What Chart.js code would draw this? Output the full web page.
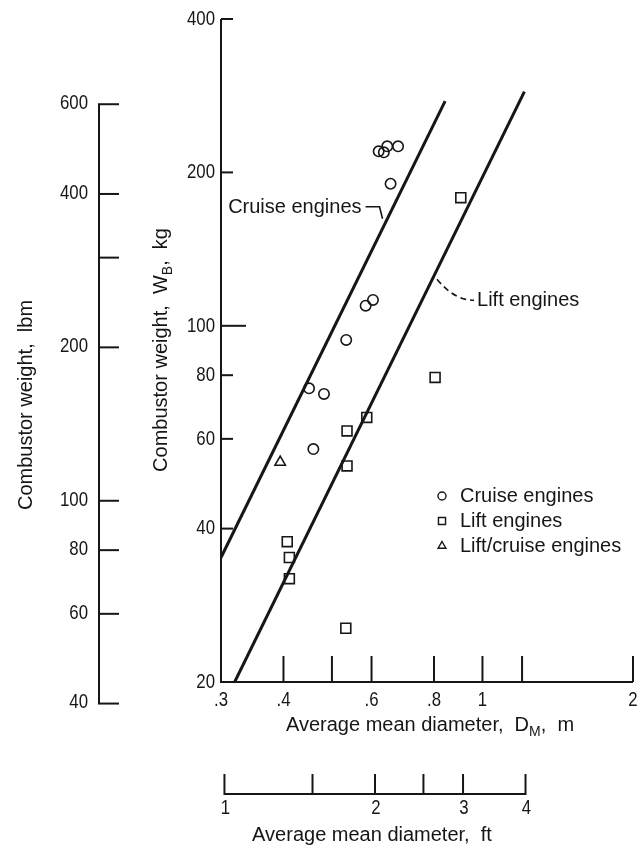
<!DOCTYPE html>
<html>
<head>
<meta charset="utf-8">
<script src="https://cdn.jsdelivr.net/npm/chart.js@4.4.0/dist/chart.umd.min.js"></script>
<style>
  html, body { margin: 0; padding: 0; background: #fff; }
  #grafica { width: 643px; height: 847px; }
</style>
</head>
<body>
<div id="grafica"><canvas id="myChart" width="643" height="847"></canvas></div>
<script>
// Combustor weight vs average mean diameter (log-log)
const cruiseDiam = [0.620, 0.635, 0.645, 0.678, 0.655, 0.584, 0.604, 0.534, 0.450, 0.482, 0.459]
const cruiseWeight = [220, 219, 225, 225, 190, 109.5, 112.4, 93.8, 75.4, 73.5, 57.3]

const liftDiam = [0.536, 0.587, 0.536, 0.804, 0.905, 0.407, 0.411, 0.411, 0.533]
const liftWeight = [62.2, 66.1, 53.1, 79.2, 178.4, 37.7, 35.1, 31.9, 25.5]

const liftCruiseDiam = [0.394]
const liftCruiseWeight = [54.0]

// correlation lines, W ~ D^2
const cruiseFitDiam = [0.3, 0.842]
const cruiseFitWeight = [35.1, 276]
const liftFitDiam = [0.3195, 1.213]
const liftFitWeight = [20, 288]

// axes
const kgTicks = [20, 40, 60, 80, 100, 200, 400]
const mTicks = [0.3, 0.4, 0.5, 0.6, 0.8, 1, 1.2, 2]
const mLabels = [".3", ".4", "", ".6", ".8", "1", "", "2"]
const lbmTicks = [40, 60, 80, 100, 200, 300, 400, 600]
const lbmLabels = ["40", "60", "80", "100", "200", "", "400", "600"]
const ftTicks = [1, 1.5, 2, 2.5, 3, 4]
const ftLabels = ["1", "", "2", "", "3", "4"]

const KG_PER_LBM = 0.45359
const M_PER_FT = 0.3048
const INK = "#161616"
const FAMILY = '"Liberation Sans", Arimo, Arial, sans-serif'
const font = (size) => size + "px " + FAMILY

const toXY = (xs, ys) => xs.map((x, i) => ({ x: x, y: ys[i] }))

function segment(ctx, x1, y1, x2, y2) {
    ctx.beginPath()
    ctx.moveTo(x1, y1)
    ctx.lineTo(x2, y2)
    ctx.stroke()
}

// tick numbers are set in a narrow face: squeeze them sideways
function numText(ctx, str, x, y, align) {
    ctx.save()
    ctx.translate(x, y)
    ctx.scale(0.8, 1)
    ctx.font = font(21)
    ctx.textAlign = align
    ctx.textBaseline = "middle"
    ctx.fillText(str, 0, 0)
    ctx.restore()
}

// text made of pieces, some of them subscripts
function partsWidth(ctx, parts) {
    let w = 0
    for (const p of parts) {
        ctx.font = font(p.size)
        w += ctx.measureText(p.t).width
    }
    return w
}
function drawParts(ctx, parts, x, y) {
    let cx = x - partsWidth(ctx, parts) / 2
    ctx.textAlign = "left"
    ctx.textBaseline = "alphabetic"
    for (const p of parts) {
        ctx.font = font(p.size)
        ctx.fillText(p.t, cx, y + (p.dy || 0))
        cx += ctx.measureText(p.t).width
    }
}

const ejes = {
    id: "ejes",
    beforeDraw(chart) {
        const ctx = chart.ctx
        ctx.save()
        ctx.fillStyle = "#fff"
        ctx.fillRect(0, 0, chart.width, chart.height)
        ctx.restore()
    },
    afterDraw(chart) {
        const ctx = chart.ctx
        const sx = chart.scales.x
        const sy = chart.scales.y
        const area = chart.chartArea
        ctx.save()
        ctx.strokeStyle = INK
        ctx.fillStyle = INK
        ctx.lineWidth = 2

        // kg axis + m axis
        ctx.beginPath()
        ctx.moveTo(area.left, area.top)
        ctx.lineTo(area.left, area.bottom)
        ctx.lineTo(area.right, area.bottom)
        ctx.stroke()

        for (const v of kgTicks) {
            const py = sy.getPixelForValue(v)
            if (v !== 20) segment(ctx, area.left, py, area.left + (v === 100 ? 25 : 12), py)
            numText(ctx, String(v), area.left - 6, py, "right")
        }

        mTicks.forEach((v, i) => {
            const px = sx.getPixelForValue(v)
            if (v !== 0.3) segment(ctx, px, area.bottom, px, area.bottom - 26)
            if (mLabels[i]) numText(ctx, mLabels[i], px, area.bottom + 18, "center")
        })

        // lbm axis on the far left
        const lx = 99
        const top = sy.getPixelForValue(600 * KG_PER_LBM)
        const bot = sy.getPixelForValue(40 * KG_PER_LBM)
        segment(ctx, lx, top, lx, bot)
        lbmTicks.forEach((v, i) => {
            const py = sy.getPixelForValue(v * KG_PER_LBM)
            segment(ctx, lx - 1, py, lx + 20, py)
            if (lbmLabels[i]) numText(ctx, lbmLabels[i], lx - 11, py - 1, "right")
        })

        // ft axis underneath
        const fy = 794
        const fl = sx.getPixelForValue(1 * M_PER_FT)
        const fr = sx.getPixelForValue(4 * M_PER_FT)
        segment(ctx, fl, fy, fr, fy)
        ftTicks.forEach((v, i) => {
            const px = sx.getPixelForValue(v * M_PER_FT)
            segment(ctx, px, fy + 1, px, fy - 20)
            if (ftLabels[i]) numText(ctx, ftLabels[i], px + 1, fy + 14, "center")
        })

        // axis titles
        drawParts(ctx, [
            { t: "Average mean diameter,  D", size: 20 },
            { t: "M", size: 14, dy: 5 },
            { t: ",  m", size: 20 }
        ], 430, 731)
        drawParts(ctx, [{ t: "Average mean diameter,  ft", size: 20 }], 372, 841)

        ctx.save()
        ctx.translate(167, 350)
        ctx.rotate(-Math.PI / 2)
        drawParts(ctx, [
            { t: "Combustor weight,  W", size: 20 },
            { t: "B", size: 14, dy: 5 },
            { t: ",  kg", size: 20 }
        ], 0, 0)
        ctx.restore()

        ctx.save()
        ctx.translate(32, 405)
        ctx.rotate(-Math.PI / 2)
        drawParts(ctx, [{ t: "Combustor weight,  lbm", size: 20 }], 0, 0)
        ctx.restore()

        // line callouts
        ctx.font = font(20)
        ctx.textBaseline = "middle"
        ctx.textAlign = "right"
        const cx = sx.getPixelForValue(0.64)
        const cy = sy.getPixelForValue(160)
        ctx.fillText("Cruise engines", cx - 24, cy - 14)
        ctx.lineWidth = 1.6
        ctx.beginPath()
        ctx.moveTo(cx - 20, cy - 15)
        ctx.lineTo(cx - 6, cy - 15)
        ctx.lineTo(cx - 3, cy - 3)
        ctx.stroke()

        const qx = sx.getPixelForValue(0.8)
        const qy = sy.getPixelForValue(124)
        ctx.setLineDash([6, 4])
        ctx.beginPath()
        ctx.moveTo(qx + 3, qy + 1)
        ctx.quadraticCurveTo(qx + 20, qy + 22, qx + 40, qy + 22)
        ctx.stroke()
        ctx.setLineDash([])
        ctx.textAlign = "left"
        ctx.fillText("Lift engines", qx + 43, qy + 22)

        // legend
        const rows = [
            { style: "circle", r: 4, text: "Cruise engines" },
            { style: "rect", r: 5, text: "Lift engines" },
            { style: "triangle", r: 4.5, text: "Lift/cruise engines" }
        ]
        rows.forEach((row, i) => {
            const y = 496 + i * 25
            ctx.lineWidth = 1.4
            ctx.fillStyle = "#fff"
            Chart.helpers.drawPoint(ctx, { pointStyle: row.style, radius: row.r, borderWidth: 1.4, rotation: 0 }, 442, y)
            ctx.fillStyle = INK
            ctx.font = font(20)
            ctx.textAlign = "left"
            ctx.textBaseline = "middle"
            ctx.fillText(row.text, 460, y)
        })
        ctx.restore()
    }
}

const markStyle = { borderColor: INK, backgroundColor: "rgba(0,0,0,0)", borderWidth: 1.6, showLine: false }
const fitStyle = { type: "line", borderColor: INK, borderWidth: 3, pointRadius: 0, showLine: true, fill: false }

const config = {
    type: "scatter",
    data: {
        datasets: [
            { label: "Cruise fit", data: toXY(cruiseFitDiam, cruiseFitWeight), ...fitStyle },
            { label: "Lift fit", data: toXY(liftFitDiam, liftFitWeight), ...fitStyle },
            { label: "Cruise engines", data: toXY(cruiseDiam, cruiseWeight), pointStyle: "circle", pointRadius: 5.2, ...markStyle },
            { label: "Lift engines", data: toXY(liftDiam, liftWeight), pointStyle: "rect", pointRadius: 7, ...markStyle },
            { label: "Lift/cruise engines", data: toXY(liftCruiseDiam, liftCruiseWeight), pointStyle: "triangle", pointRadius: 6, ...markStyle }
        ]
    },
    options: {
        responsive: false,
        animation: false,
        layout: { padding: { left: 221, right: 10, top: 19, bottom: 165 } },
        scales: {
            x: { type: "logarithmic", min: 0.3, max: 2, display: false },
            y: { type: "logarithmic", min: 20, max: 400, display: false }
        },
        plugins: { legend: { display: false }, tooltip: { enabled: false } }
    },
    plugins: [ejes]
}

const myChart = new Chart(document.getElementById("myChart"), config)
</script>
</body>
</html>
